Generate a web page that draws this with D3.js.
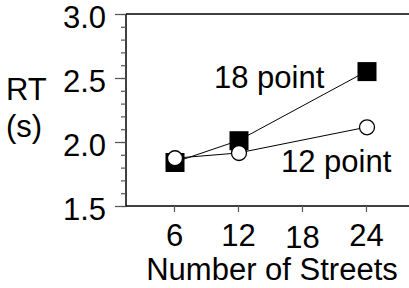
<!DOCTYPE html>
<html>
<head>
<meta charset="utf-8">
<script src="https://cdn.jsdelivr.net/npm/d3@7"></script>
<style>
  body { margin: 0; background: #fff; }
  svg { display: block; font-family: "Liberation Sans", Arial, sans-serif; }
</style>
</head>
<body>
<div id="chart"></div>
<script>
// data
var streets = [6, 12, 24];
var rt18 = [1.84, 2.01, 2.55];
var rt12 = [1.873, 1.914, 2.115];
var xTicks = [6, 12, 18, 24];
var yMajor = [1.5, 2.0, 2.5, 3.0];
var yMinor = d3.range(16).map(function(i) { return +(1.5 + i * 0.1).toFixed(1); });

var W = 409, H = 288;
var svg = d3.select("#chart").append("svg")
    .attr("width", W)
    .attr("height", H);

var x = d3.scaleLinear().domain([6, 24]).range([174, 366]);
var y = d3.scaleLinear().domain([1.5, 3.0]).range([206, 14]);
var left = 126, right = W, fs = 31;

// frame: left, bottom, top
svg.append("line").attr("x1", left).attr("x2", left).attr("y1", 14).attr("y2", 206.5)
    .attr("stroke", "#000").attr("stroke-width", 1.5);
svg.append("line").attr("x1", left).attr("x2", right).attr("y1", 206).attr("y2", 206)
    .attr("stroke", "#000").attr("stroke-width", 1.5);
svg.append("line").attr("x1", left).attr("x2", right).attr("y1", 14).attr("y2", 14)
    .attr("stroke", "#000").attr("stroke-width", 1.5);

// y axis: minor ticks then major ticks
var yMin = svg.append("g").attr("transform", "translate(" + left + ",0)")
    .call(d3.axisLeft(y).tickValues(yMinor).tickSize(5).tickSizeOuter(0).tickFormat(""));
var yMaj = svg.append("g").attr("transform", "translate(" + left + ",0)")
    .call(d3.axisLeft(y).tickValues(yMajor).tickSize(11).tickSizeOuter(0).tickFormat(d3.format(".1f")).tickPadding(6));
[yMin, yMaj].forEach(function(g) {
  g.select(".domain").remove();
  g.selectAll(".tick line").attr("stroke", "#555").attr("stroke-width", 1.2);
});
yMaj.selectAll(".tick text")
    .attr("font-size", fs).attr("font-family", null).attr("fill", "#000")
    .attr("dy", "0.45em").attr("x", -20);

// x axis
var xAx = svg.append("g").attr("transform", "translate(0,206)")
    .call(d3.axisBottom(x).tickValues(xTicks).tickSize(6).tickSizeOuter(0));
xAx.select(".domain").remove();
xAx.selectAll(".tick line").attr("stroke", "#555").attr("stroke-width", 1.2);
xAx.selectAll(".tick text")
    .attr("font-size", fs).attr("font-family", null).attr("fill", "#000")
    .attr("dy", null).attr("y", function(d) { return d === 18 ? 42 : 40; });

// lines
var line = d3.line().x(function(d) { return x(d[0]); }).y(function(d) { return y(d[1]); });
[rt18, rt12].forEach(function(vals) {
  svg.append("path")
      .datum(d3.zip(streets, vals))
      .attr("d", line)
      .attr("fill", "none")
      .attr("stroke", "#000")
      .attr("stroke-width", 1);
});

// markers: squares (18 point) then circles (12 point)
var sq = 19;
svg.selectAll(".sq").data(d3.zip(streets, rt18)).join("rect")
    .attr("class", "sq")
    .attr("x", function(d) { return x(d[0]) - sq / 2 + 1; })
    .attr("y", function(d) { return y(d[1]) - sq / 2; })
    .attr("width", sq).attr("height", sq)
    .attr("fill", "#000");
svg.selectAll(".ci").data(d3.zip(streets, rt12)).join("circle")
    .attr("class", "ci")
    .attr("cx", function(d) { return x(d[0]) + 1; })
    .attr("cy", function(d) { return y(d[1]); })
    .attr("r", 7.5)
    .attr("fill", "#fff").attr("stroke", "#000").attr("stroke-width", 1.3);

// series labels
svg.append("text").attr("x", 214).attr("y", 88).attr("font-size", fs).text("18 point");
svg.append("text").attr("x", 281).attr("y", 172).attr("font-size", fs).text("12 point");

// axis titles
svg.append("text").attr("x", 6).attr("y", 100).attr("font-size", fs).text("RT");
svg.append("text").attr("x", 6).attr("y", 137).attr("font-size", fs).text("(s)");
svg.append("text").attr("x", 272).attr("y", 280).attr("font-size", fs)
    .attr("text-anchor", "middle").text("Number of Streets");
</script>
</body>
</html>
